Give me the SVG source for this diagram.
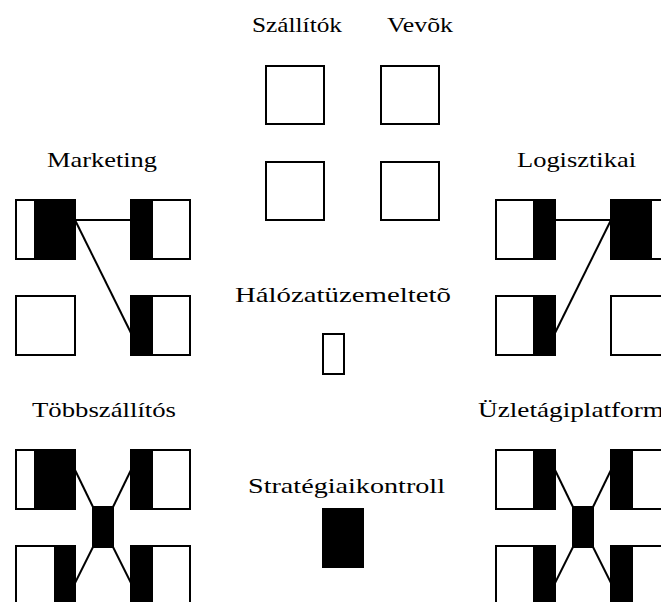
<svg xmlns="http://www.w3.org/2000/svg" width="661" height="602" viewBox="0 0 661 602">
<style>
.box{fill:#fff;stroke:#000;stroke-width:2}
.blk{fill:#000;stroke:#000;stroke-width:2}
.con{stroke:#000;stroke-width:2;fill:none}
text{font-family:"Liberation Serif","DejaVu Serif",serif;font-size:21px;fill:#000}
</style>
<rect width="661" height="602" fill="#fff"/>
<g id="labels">
<text x="252" y="32" textLength="90" lengthAdjust="spacingAndGlyphs">Szállítók</text>
<text x="387" y="32" textLength="66" lengthAdjust="spacingAndGlyphs">Vevõk</text>
<text x="47" y="167" textLength="110" lengthAdjust="spacingAndGlyphs">Marketing</text>
<text x="517" y="167" textLength="119" lengthAdjust="spacingAndGlyphs">Logisztikai</text>
<text x="235" y="302" textLength="216" lengthAdjust="spacingAndGlyphs">Hálózatüzemeltetõ</text>
<text x="32" y="417" textLength="144" lengthAdjust="spacingAndGlyphs">Többszállítós</text>
<text x="478" y="417" textLength="186" lengthAdjust="spacingAndGlyphs">Üzletágiplatform</text>
<text x="248" y="493" textLength="197" lengthAdjust="spacingAndGlyphs">Stratégiaikontroll</text>
</g>
<g id="szallitok-1"><rect class="box" x="266" y="66" width="58" height="58"/></g>
<g id="vevok-1"><rect class="box" x="381" y="66" width="58" height="58"/></g>
<g id="szallitok-2"><rect class="box" x="266" y="162" width="58" height="58"/></g>
<g id="vevok-2"><rect class="box" x="381" y="162" width="58" height="58"/></g>
<g id="halozat"><rect class="box" x="323" y="334" width="21" height="40"/></g>
<g id="strategiai"><rect class="blk" x="323" y="509" width="40" height="58"/></g>
<g id="connectors">
<line class="con" x1="75" y1="220" x2="131" y2="220"/>
<line class="con" x1="75" y1="220" x2="131" y2="333"/>
<line class="con" x1="555" y1="220" x2="611" y2="220"/>
<line class="con" x1="611" y1="220" x2="555" y2="333"/>
<line class="con" x1="75" y1="470" x2="93" y2="507"/>
<line class="con" x1="131" y1="470" x2="113" y2="507"/>
<line class="con" x1="93" y1="547" x2="75" y2="583"/>
<line class="con" x1="113" y1="547" x2="131" y2="583"/>
<line class="con" x1="555" y1="470" x2="573" y2="507"/>
<line class="con" x1="611" y1="470" x2="593" y2="507"/>
<line class="con" x1="573" y1="547" x2="555" y2="583"/>
<line class="con" x1="593" y1="547" x2="611" y2="583"/>
</g>
<g id="mkt-1"><rect class="box" x="16" y="200" width="59" height="59"/><rect class="blk" x="35" y="200" width="40" height="59"/></g>
<g id="mkt-2"><rect class="box" x="131" y="200" width="59" height="59"/><rect class="blk" x="131" y="200" width="21" height="59"/></g>
<g id="mkt-3"><rect class="box" x="16" y="296" width="59" height="59"/></g>
<g id="mkt-4"><rect class="box" x="131" y="296" width="59" height="59"/><rect class="blk" x="131" y="296" width="21" height="59"/></g>
<g id="log-1"><rect class="box" x="496" y="200" width="59" height="59"/><rect class="blk" x="534" y="200" width="21" height="59"/></g>
<g id="log-2"><rect class="box" x="611" y="200" width="59" height="59"/><rect class="blk" x="611" y="200" width="40" height="59"/></g>
<g id="log-3"><rect class="box" x="496" y="296" width="59" height="59"/><rect class="blk" x="534" y="296" width="21" height="59"/></g>
<g id="log-4"><rect class="box" x="611" y="296" width="59" height="59"/></g>
<g id="tobb-1"><rect class="box" x="16" y="450" width="59" height="59"/><rect class="blk" x="35" y="450" width="40" height="59"/></g>
<g id="tobb-2"><rect class="box" x="131" y="450" width="59" height="59"/><rect class="blk" x="131" y="450" width="21" height="59"/></g>
<g id="tobb-c"><rect class="blk" x="93" y="507" width="20" height="40"/></g>
<g id="tobb-3"><rect class="box" x="16" y="546" width="59" height="59"/><rect class="blk" x="55" y="546" width="20" height="59"/></g>
<g id="tobb-4"><rect class="box" x="131" y="546" width="59" height="59"/><rect class="blk" x="131" y="546" width="21" height="59"/></g>
<g id="uzl-1"><rect class="box" x="496" y="450" width="59" height="59"/><rect class="blk" x="534" y="450" width="21" height="59"/></g>
<g id="uzl-2"><rect class="box" x="611" y="450" width="59" height="59"/><rect class="blk" x="611" y="450" width="21" height="59"/></g>
<g id="uzl-c"><rect class="blk" x="573" y="507" width="20" height="40"/></g>
<g id="uzl-3"><rect class="box" x="496" y="546" width="59" height="59"/><rect class="blk" x="534" y="546" width="21" height="59"/></g>
<g id="uzl-4"><rect class="box" x="611" y="546" width="59" height="59"/><rect class="blk" x="611" y="546" width="21" height="59"/></g>
</svg>
